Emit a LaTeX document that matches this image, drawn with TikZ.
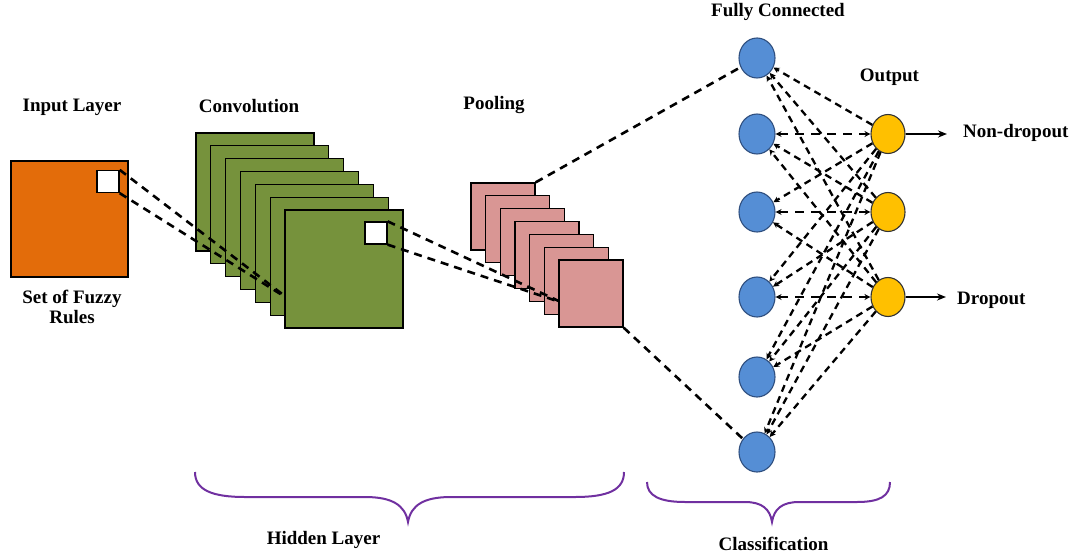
\documentclass[tikz,border=0pt]{standalone}
\usepackage{fontspec}
\setmainfont{Liberation Serif}
\usetikzlibrary{arrows.meta,shapes.geometric}
\definecolor{inorange}{HTML}{E36C0A}
\definecolor{convgreen}{HTML}{76923C}
\definecolor{poolpink}{HTML}{D99694}
\definecolor{fcblue}{HTML}{558ED5}
\definecolor{outyellow}{HTML}{FFC000}
\definecolor{bracepurple}{HTML}{7030A0}
\definecolor{ringblue}{HTML}{2F4F7F}
\begin{document}
\begin{tikzpicture}[x=1pt,y=-1pt,
  lbl/.style={font=\fontsize{19}{21}\selectfont\bfseries, inner sep=0pt, anchor=base},
  sq/.style={draw=black, line width=1.3pt, inner sep=0pt},
  convsq/.style={sq, fill=convgreen, minimum width=118pt, minimum height=118pt},
  poolsq/.style={sq, fill=poolpink, minimum width=64pt, minimum height=67pt},
  winsq/.style={sq, fill=white, minimum size=22pt},
  bigdash/.style={line width=2.6pt, dash pattern=on 8pt off 6pt},
  fcline/.style={line width=2.3pt, dash pattern=on 7pt off 5pt, -{Stealth[length=6pt,width=6pt]}},
  hline/.style={line width=1.5pt, dash pattern=on 9pt off 7pt, {Stealth[length=6pt,width=6pt]}-{Stealth[length=6pt,width=6pt]}},
  fcnode/.style={ellipse, draw=ringblue, line width=1.1pt, fill=fcblue, minimum width=36pt, minimum height=40pt, inner sep=0pt},
  outnode/.style={ellipse, draw=black!80, line width=1.1pt, fill=outyellow, minimum width=34pt, minimum height=39pt, inner sep=0pt},
  brace/.style={draw=bracepurple, line width=2pt},
  solidarrow/.style={line width=1.6pt, -{Stealth[length=9pt,width=7pt]}}
]
\useasboundingbox (0,0) rectangle (1078,559);

% input layer
\node[sq, fill=inorange, minimum width=117pt, minimum height=116pt] (inp) at (69.5,219) {};
\node[winsq] (inw) at (108,181.5) {};

% convolution stack
\foreach \i in {1,...,6}{
  \node[convsq] (conv\i) at ({255+(\i-1)*14.83},{192+(\i-1)*12.83}) {};
}
\coordinate (c1) at (290,300);
\draw[bigdash] (inw.north east) -- (c1);
\draw[bigdash] (inw.south east) -- (c1);
\node[convsq] (conv7) at (344,269) {};
\node[winsq] (convw) at (376,233) {};

% pooling stack
\foreach \i in {1,...,6}{
  \node[poolsq] (pool\i) at ({503+(\i-1)*14.67},{216.5+(\i-1)*12.83}) {};
}
\coordinate (c2) at (563,303);
\draw[bigdash] (convw.north east) -- (c2);
\draw[bigdash] (convw.south east) -- (c2);
\node[poolsq] (pool7) at (591,293.5) {};

% fully connected and output nodes
\foreach \i/\y in {1/58,2/134,3/212,4/297,5/377,6/452}{
  \node[fcnode] (fc\i) at (757,\y) {};
}
\foreach \j/\y in {1/134,2/212,3/297}{
  \node[outnode] (out\j) at (888,\y) {};
}

\draw[bigdash] (pool1.north east) -- (fc1);
\draw[bigdash] (pool7.south east) -- (fc6);

% connections
\foreach \i in {1,...,6}{
  \foreach \j in {1,2,3}{
    \pgfmathtruncatemacro{\d}{\i-\j}
    \ifnum\d=1
      \draw[hline] (fc\i) -- (out\j);
    \else
      \draw[fcline] (out\j) -- (fc\i);
    \fi
  }
}

% output arrows
\coordinate (a1) at (947,134);
\coordinate (a2) at (946,297);
\draw[solidarrow] (out1) -- (a1);
\draw[solidarrow] (out3) -- (a2);

% labels
\node[lbl] (tin) at (72,112) {Input Layer};
\node[lbl] (tfz1) at (72,303) {Set of Fuzzy};
\node[lbl] (tfz2) at (72,323.5) {Rules};
\node[lbl] (tconv) at (249,112.5) {Convolution};
\node[lbl] (tpool) at (494,110) {Pooling};
\node[lbl] (tfc) at (778,17) {Fully Connected};
\node[lbl] (tout) at (889.5,82) {Output};
\node[lbl, anchor=base west] (tnd) at (963,138) {Non-dropout};
\node[lbl, anchor=base west] (td) at (957,304) {Dropout};
\node[lbl] (thid) at (323.5,544) {Hidden Layer};
\node[lbl] (tcls) at (773.5,550) {Classification};

% braces
\draw[brace] (195,472) .. controls (195,490) and (212,497) .. (245,497)
  -- (365,497) .. controls (392,497) and (405,505) .. (408,522)
  .. controls (411,505) and (424,497) .. (451,497)
  -- (575,497) .. controls (608,497) and (624,490) .. (624,472);
\draw[brace] (647,482) .. controls (647,496) and (660,502) .. (685,502)
  -- (745,502) .. controls (762,502) and (770,509) .. (772,522)
  .. controls (774,509) and (782,502) .. (799,502)
  -- (857,502) .. controls (880,502) and (890,496) .. (890,482);
\end{tikzpicture}
\end{document}
